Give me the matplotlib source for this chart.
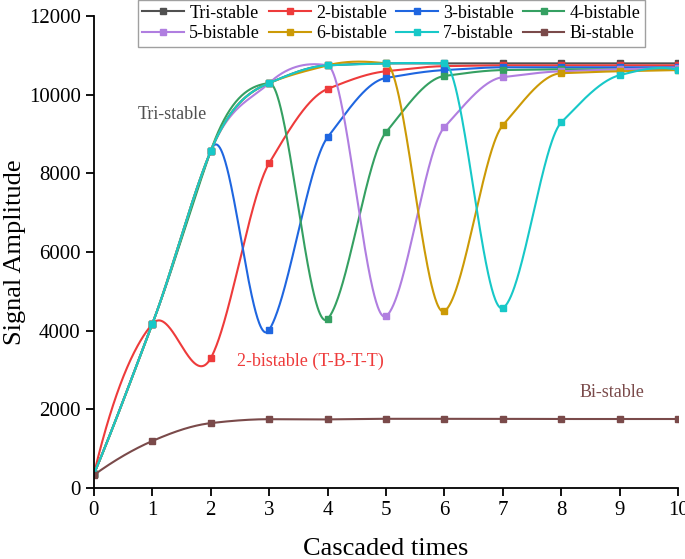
import numpy as np
import matplotlib
matplotlib.use("Agg")
import matplotlib.pyplot as plt

x = [0, 1, 2, 3, 4, 5, 6, 7, 8, 9, 10]
tri_stable = [350, 4170, 8570, 10300, 10750, 10800, 10800, 10800, 10800, 10800, 10800]
bistable_2 = [350, 4170, 3300, 8260, 10150, 10600, 10730, 10750, 10750, 10750, 10750]
bistable_3 = [350, 4170, 8570, 4020, 8920, 10430, 10630, 10700, 10700, 10700, 10700]
bistable_4 = [350, 4170, 8570, 10300, 4300, 9050, 10480, 10630, 10650, 10650, 10650]
bistable_5 = [350, 4170, 8570, 10300, 10750, 4370, 9180, 10450, 10600, 10650, 10680]
bistable_6 = [350, 4170, 8570, 10300, 10750, 10800, 4500, 9230, 10550, 10600, 10630]
bistable_7 = [350, 4170, 8570, 10300, 10750, 10800, 10800, 4580, 9300, 10500, 10630]
bi_stable = [330, 1195, 1650, 1750, 1745, 1760, 1760, 1760, 1755, 1755, 1755]

labels = ["Tri-stable", "2-bistable", "3-bistable", "4-bistable",
          "5-bistable", "6-bistable", "7-bistable", "Bi-stable"]
series = [tri_stable, bistable_2, bistable_3, bistable_4,
          bistable_5, bistable_6, bistable_7, bi_stable]
colors = ["#505050", "#ee3b3b", "#1f66e0", "#35a062",
          "#b07ee0", "#cc9a06", "#17c8c8", "#7a4a4a"]


def akima(xk, yk, xs):
    xk = np.asarray(xk, float)
    yk = np.asarray(yk, float)
    n = len(xk)
    d = np.diff(yk) / np.diff(xk)
    m = np.empty(n + 3)
    m[2:n + 1] = d
    m[1] = 2 * m[2] - m[3]
    m[0] = 2 * m[1] - m[2]
    m[n + 1] = 2 * m[n] - m[n - 1]
    m[n + 2] = 2 * m[n + 1] - m[n]
    t = np.empty(n)
    for i in range(n):
        w1 = abs(m[i + 3] - m[i + 2])
        w2 = abs(m[i + 1] - m[i])
        if w1 + w2 == 0:
            t[i] = 0.5 * (m[i + 1] + m[i + 2])
        else:
            t[i] = (w1 * m[i + 1] + w2 * m[i + 2]) / (w1 + w2)
    idx = np.clip(np.searchsorted(xk, xs) - 1, 0, n - 2)
    h = xk[idx + 1] - xk[idx]
    s = (xs - xk[idx]) / h
    h00 = 2 * s ** 3 - 3 * s ** 2 + 1
    h10 = s ** 3 - 2 * s ** 2 + s
    h01 = -2 * s ** 3 + 3 * s ** 2
    h11 = s ** 3 - s ** 2
    return (h00 * yk[idx] + h10 * h * t[idx]
            + h01 * yk[idx + 1] + h11 * h * t[idx + 1])


plt.rcParams['font.family'] = ['Liberation Serif', 'DejaVu Serif']

fig = plt.figure(figsize=(6.85, 5.59), dpi=100)
ax = fig.add_axes([0.137, 0.127, 0.853, 0.844])

step = 100
xs = np.linspace(0, 10, 10 * step + 1)
handles = []
for lab, ys, c in zip(labels, series, colors):
    h, = ax.plot(xs, akima(x, ys, xs), color=c, lw=1.5, marker='s',
                 markersize=4, markevery=step, label=lab)
    handles.append(h)

ax.set_xlim(0, 10)
ax.set_ylim(0, 12000)
ax.set_xticks(range(0, 11))
ax.set_yticks(range(0, 12001, 2000))
ax.spines['top'].set_visible(False)
ax.spines['right'].set_visible(False)
ax.spines['left'].set_linewidth(1.3)
ax.spines['bottom'].set_linewidth(1.3)
ax.tick_params(direction='out', length=6, width=1.3, labelsize=15)
ax.set_xlabel("Cascaded times", fontsize=19, labelpad=13)
ax.set_ylabel("Signal Amplitude", fontsize=19, labelpad=2)

ax.text(1.34, 9510, "Tri-stable", color="#505050", fontsize=13,
        ha='center', va='center')
ax.text(3.70, 3230, "2-bistable (T-B-T-T)", color="#ee3b3b", fontsize=13,
        ha='center', va='center')
ax.text(8.86, 2440, "Bi-stable", color="#7a4a4a", fontsize=13,
        ha='center', va='center')

order = [0, 4, 1, 5, 2, 6, 3, 7]
leg = fig.legend([handles[i] for i in order], [labels[i] for i in order],
                 loc='upper center', bbox_to_anchor=(0.5715, 1.0), ncol=4,
                 fontsize=13, frameon=True, fancybox=False, edgecolor='#888888',
                 handlelength=2.3, handletextpad=0.3, columnspacing=0.5,
                 borderpad=0.25, labelspacing=0.2, borderaxespad=0.0)
leg.get_frame().set_linewidth(1.0)

fig.savefig("out.png", dpi=100)
